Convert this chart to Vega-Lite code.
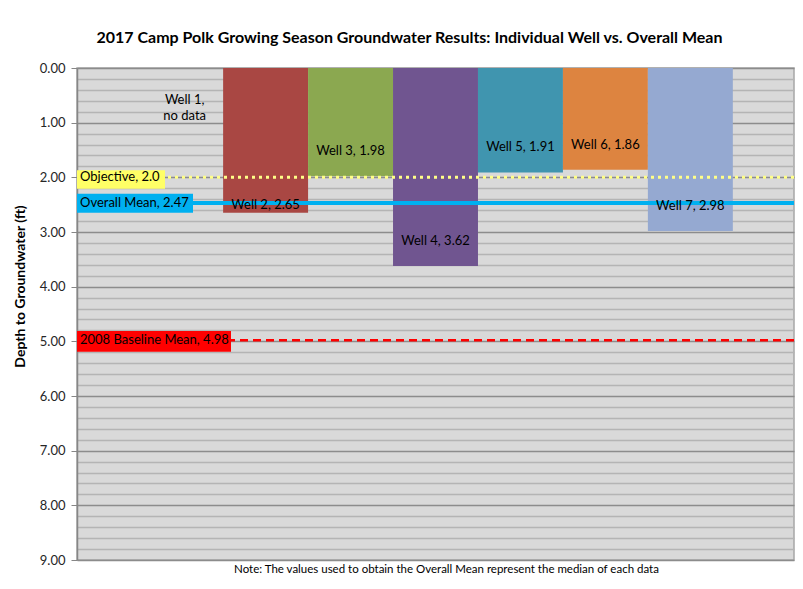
{
  "$schema": "https://vega.github.io/schema/vega-lite/v6.json",
  "width": 717,
  "height": 492,
  "autosize": {"type": "none"},
  "padding": {"left": 77, "top": 68, "right": 9, "bottom": 29},
  "background": "white",
  "config": {
    "font": "Lato",
    "view": {"fill": "#D9D9D9", "stroke": "#A6A6A6", "strokeWidth": 1.5}
  },
  "title": {
    "text": "2017 Camp Polk Growing Season Groundwater Results: Individual Well vs. Overall Mean",
    "fontSize": 16,
    "fontWeight": "bold",
    "color": "#000000",
    "anchor": "middle",
    "dx": -26,
    "offset": 16
  },
  "datasets": {
    "wells": [
      {"well": "Well 1", "depth": null, "label": ""},
      {"well": "Well 2", "depth": 2.65, "label": "Well 2, 2.65"},
      {"well": "Well 3", "depth": 1.98, "label": "Well 3, 1.98"},
      {"well": "Well 4", "depth": 3.62, "label": "Well 4, 3.62"},
      {"well": "Well 5", "depth": 1.91, "label": "Well 5, 1.91"},
      {"well": "Well 6", "depth": 1.86, "label": "Well 6, 1.86"},
      {"well": "Well 7", "depth": 2.98, "label": "Well 7, 2.98"}
    ]
  },
  "encoding": {
    "y": {
      "type": "quantitative",
      "scale": {"domain": [0, 9], "reverse": true, "nice": false},
      "axis": {
        "title": "Depth to Groundwater (ft)",
        "titleFontSize": 14,
        "titleFontWeight": "bold",
        "titleColor": "#000000",
        "titlePadding": 12,
        "titleY": 218,
        "values": [0, 0.2, 0.4, 0.6, 0.8, 1, 1.2, 1.4, 1.6, 1.8, 2, 2.2, 2.4, 2.6, 2.8, 3, 3.2, 3.4, 3.6, 3.8, 4, 4.2, 4.4, 4.6, 4.8, 5, 5.2, 5.4, 5.6, 5.8, 6, 6.2, 6.4, 6.6, 6.8, 7, 7.2, 7.4, 7.6, 7.8, 8, 8.2, 8.4, 8.6, 8.8, 9],
        "labelExpr": "datum.value % 1 === 0 ? format(datum.value, '.2f') : ''",
        "labelFontSize": 13,
        "labelColor": "#262626",
        "labelPadding": 6,
        "tickSize": 6,
        "tickColor": "#868686",
        "tickOpacity": {"condition": {"test": "datum.value % 1 === 0", "value": 1}, "value": 0},
        "domainColor": "#868686",
        "domainWidth": 1.5,
        "grid": true,
        "gridColor": {"condition": {"test": "datum.value % 1 === 0", "value": "#8C8C8C"}, "value": "#B4B4B4"},
        "gridWidth": 1.5
      }
    }
  },
  "layer": [
    {
      "data": {"name": "wells"},
      "mark": {"type": "bar", "opacity": 1},
      "encoding": {
        "x": {
          "field": "well",
          "type": "nominal",
          "sort": null,
          "scale": {
            "domain": ["Well 1", "Well 2", "Well 3", "Well 4", "Well 5", "Well 6", "Well 7"],
            "paddingInner": 0,
            "paddingOuter": 0.72
          },
          "axis": {
            "labels": false,
            "ticks": false,
            "domain": false,
            "title": "Note: The values used to obtain the Overall Mean represent the median of each data",
            "titleFontSize": 11.5,
            "titleFontWeight": "normal",
            "titleColor": "#000000",
            "titlePadding": 3,
            "titleX": 369
          }
        },
        "y": {"field": "depth"},
        "y2": {"datum": 0},
        "color": {
          "field": "well",
          "type": "nominal",
          "legend": null,
          "scale": {
            "domain": ["Well 1", "Well 2", "Well 3", "Well 4", "Well 5", "Well 6", "Well 7"],
            "range": ["#D9D9D9", "#A94743", "#8BA850", "#705590", "#4095AF", "#DD8440", "#95A9D1"]
          }
        }
      }
    },
    {
      "data": {"values": [{"y": 2.0}]},
      "mark": {"type": "rule", "color": "#FFFF88", "strokeWidth": 3, "strokeDash": [3, 4]},
      "encoding": {"y": {"field": "y"}}
    },
    {
      "data": {"values": [{"y": 2.47}]},
      "mark": {"type": "rule", "color": "#00B0F0", "strokeWidth": 4},
      "encoding": {"y": {"field": "y"}}
    },
    {
      "data": {"values": [{"y": 4.98}]},
      "mark": {"type": "rule", "color": "#FF0000", "strokeWidth": 2.5, "strokeDash": [8, 5]},
      "encoding": {"y": {"field": "y"}}
    },
    {
      "data": {"name": "wells"},
      "transform": [{"filter": "datum.depth != null && datum.well !== 'Well 2'"}],
      "mark": {"type": "text", "fontSize": 13, "color": "#000000", "baseline": "middle", "dy": -25},
      "encoding": {
        "x": {"field": "well", "type": "nominal", "sort": null},
        "y": {"field": "depth"},
        "text": {"field": "label"}
      }
    },
    {
      "data": {"name": "wells"},
      "transform": [{"filter": "datum.well === 'Well 2'"}],
      "mark": {"type": "text", "fontSize": 13, "color": "#000000", "baseline": "middle", "dy": -8},
      "encoding": {
        "x": {"field": "well", "type": "nominal", "sort": null},
        "y": {"field": "depth"},
        "text": {"field": "label"}
      }
    },
    {
      "data": {"values": [{"well": "Well 1", "note": "Well 1,\nno data"}]},
      "mark": {"type": "text", "fontSize": 13, "color": "#000000", "baseline": "middle", "lineBreak": "\n", "lineHeight": 16, "dx": 4},
      "encoding": {
        "x": {"field": "well", "type": "nominal", "sort": null},
        "y": {"datum": 0.58},
        "text": {"field": "note"}
      }
    },
    {
      "data": {"values": [{"name": "Objective, 2.0", "y": 2.0, "top": 1.87, "bottom": 2.21}]},
      "layer": [
        {
          "mark": {"type": "rect", "color": "#FFFF66"},
          "encoding": {
            "x": {"value": 0},
            "x2": {"value": 88},
            "y": {"field": "top", "type": "quantitative"},
            "y2": {"field": "bottom"}
          }
        },
        {
          "mark": {"type": "text", "align": "left", "baseline": "middle", "fontSize": 13, "color": "#000000", "dx": 3},
          "encoding": {
            "x": {"value": 0},
            "y": {"field": "y", "type": "quantitative"},
            "text": {"field": "name"}
          }
        }
      ]
    },
    {
      "data": {"values": [{"name": "Overall Mean, 2.47", "y": 2.47, "top": 2.30, "bottom": 2.65}]},
      "layer": [
        {
          "mark": {"type": "rect", "color": "#00B0F0"},
          "encoding": {
            "x": {"value": 0},
            "x2": {"value": 116},
            "y": {"field": "top", "type": "quantitative"},
            "y2": {"field": "bottom"}
          }
        },
        {
          "mark": {"type": "text", "align": "left", "baseline": "middle", "fontSize": 13, "color": "#000000", "dx": 3},
          "encoding": {
            "x": {"value": 0},
            "y": {"field": "y", "type": "quantitative"},
            "text": {"field": "name"}
          }
        }
      ]
    },
    {
      "data": {"values": [{"name": "2008 Baseline Mean, 4.98", "y": 4.98, "top": 4.81, "bottom": 5.19}]},
      "layer": [
        {
          "mark": {"type": "rect", "color": "#FF0000"},
          "encoding": {
            "x": {"value": 0},
            "x2": {"value": 154},
            "y": {"field": "top", "type": "quantitative"},
            "y2": {"field": "bottom"}
          }
        },
        {
          "mark": {"type": "text", "align": "left", "baseline": "middle", "fontSize": 13, "color": "#000000", "dx": 3},
          "encoding": {
            "x": {"value": 0},
            "y": {"field": "y", "type": "quantitative"},
            "text": {"field": "name"}
          }
        }
      ]
    }
  ]
}
